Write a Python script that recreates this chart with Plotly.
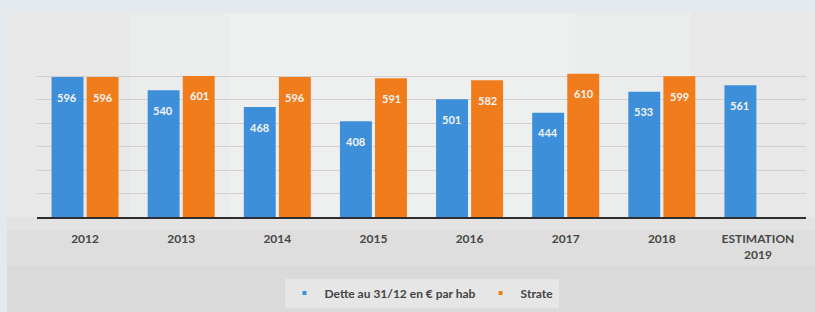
import plotly.graph_objects as go

categories = ["2012", "2013", "2014", "2015", "2016", "2017", "2018", "ESTIMATION<br>2019"]
dette = [596, 540, 468, 408, 501, 444, 533, 561]
strate = [596, 601, 596, 591, 582, 610, 599, None]
series_names = ["Dette au 31/12 en € par hab", "Strate"]

BLUE = "#3d8fd9"
ORANGE = "#f07c1c"
FONT = "Lato"

fig = go.Figure()
fig.add_trace(go.Bar(x=categories, y=dette, marker=dict(color=BLUE, line=dict(width=0)),
                     showlegend=False))
fig.add_trace(go.Bar(x=categories, y=strate, marker=dict(color=ORANGE, line=dict(width=0)),
                     showlegend=False))

# legend entries with small square markers
for name, col in zip(series_names, [BLUE, ORANGE]):
    fig.add_trace(go.Scatter(x=[categories[0]], y=[None], mode="markers", name=name,
                             marker=dict(symbol="square", size=4, color=col)))

# value labels near the top inside bars (x as category index)
annotations = []
for vals, shift in [(dette, -18), (strate, 18)]:
    for i, v in enumerate(vals):
        if v is None:
            continue
        annotations.append(dict(x=i, y=v, xref="x", yref="y", text=f"<b>{v}</b>",
                                showarrow=False, xshift=shift, yshift=-20,
                                font=dict(family=FONT, size=11, color="#f4f4f4")))

fig.update_layout(
    width=815, height=312,
    margin=dict(l=37, r=9, t=55, b=95, autoexpand=False),
    paper_bgcolor="#e4e9ed",
    plot_bgcolor="#efefef",
    barmode="group", bargap=0.27, bargroupgap=0.09,
    font=dict(family=FONT, size=11, color="#474747"),
    annotations=annotations,
    shapes=[
        dict(type="rect", xref="paper", yref="paper", x0=-0.039, x1=1.02, y0=-0.7, y1=1.259,
             fillcolor="#dadada", line=dict(width=0), layer="below"),
        dict(type="rect", xref="paper", yref="paper", x0=-0.039, x1=1.02, y0=-0.3, y1=1.259,
             fillcolor="#dedede", line=dict(width=0), layer="below"),
        dict(type="rect", xref="paper", yref="paper", x0=-0.039, x1=1.02, y0=-0.08, y1=1.259,
             fillcolor="#e3e3e3", line=dict(width=0), layer="below"),
        dict(type="rect", xref="paper", yref="paper", x0=-0.039, x1=1.02, y0=0.0, y1=1.259,
             fillcolor="#e8e8e8", line=dict(width=0), layer="below"),
        dict(type="rect", xref="paper", yref="paper", x0=0.12, x1=0.85, y0=0.0, y1=1.259,
             fillcolor="#ebecec", line=dict(width=0), layer="below"),
        dict(type="rect", xref="paper", yref="paper", x0=0.25, x1=0.7, y0=0.0, y1=1.259,
             fillcolor="#eef0f0", line=dict(width=0), layer="below"),
    ],
    legend=dict(orientation="h", x=0.5, xanchor="center", yref="container",
                y=1 - 293 / 312, yanchor="middle",
                bgcolor="#e6e6e6", font=dict(family=FONT, size=12, color="#444444", weight="bold"),
                itemwidth=30),
    xaxis=dict(type="category", categoryorder="array", categoryarray=categories,
               range=[-0.5, len(categories) - 0.5], automargin=False,
               showgrid=False, showline=True, linecolor="#2e2e2e", linewidth=2,
               ticks="", ticklabelstandoff=10,
               tickfont=dict(family=FONT, size=12, color="#474747", weight="bold")),
    yaxis=dict(range=[0, 690], dtick=100, showgrid=True, gridcolor="#d0d0d0", gridwidth=1,
               showticklabels=False, zeroline=False, showline=False, fixedrange=True,
               automargin=False),
)

fig.write_html("out.html", config={"displayModeBar": False},
               post_script="document.body.style.margin='0';")
